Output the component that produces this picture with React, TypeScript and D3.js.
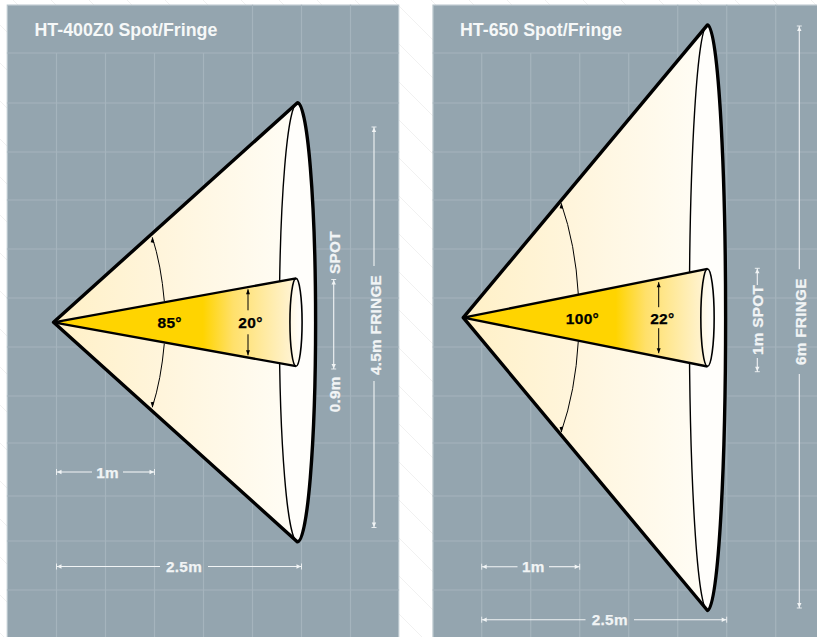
import React from "react";
import * as d3 from "d3";

// ---- data (metres / degrees) ----
const panelTitles = ["HT-400Z0 Spot/Fringe", "HT-650 Spot/Fringe"];
const fringeMetres = [4.5, 6];
const spotMetres = [0.9, 1];
const fringeAngles = ["85°", "100°"];
const spotAngles = ["20°", "22°"];
const apexDistance = [-0.03, -0.188];
const fringeRimDistance = [2.459, 2.304];
const spotRimDistance = [2.444, 2.304];
const fringeRimDepth = [0.185, 0.185];
const spotRimDepth = [0.062, 0.068];
const shortDistance = [1, 1];
const longDistance = [2.5, 2.5];
const fringeLabels = ["4.5m FRINGE", "6m FRINGE"];
const gridRows = [53, 103, 152, 200, 249, 298, 347, 396, 443, 496, 541, 590];
const gridColumns = [0, 0.5, 1, 1.5, 2, 2.5, 3];

// ---- layout ----
const WIDTH = 817;
const HEIGHT = 637;
const PX_PER_M_X = 98;
const PX_PER_M_Y = 97.6;
const PANEL_TOP = 4.5;

type Layout = {
  left: number; right: number; x0: number; cy: number; titleX: number;
  shortY: number; shortGap: [number, number]; longY: number; longGap: [number, number];
  fringeX: number; fringeEnds: [number, number]; fringeGap: [number, number];
  spotX: number; spotEnds: [number, number]; spotGap: [number, number];
  spotTexts: { t: string; y: number }[];
  fringeTextY: number;
  arcStart: number; arcStartOff: number; arcCtrlX: number; arcEnd: number; arcEndOff: number;
  spotArrowX: number; spotArrowFar: number; spotArrowNear: number;
  fringeLabelX: number; spotLabelX: number; labelY: number;
  solidUntil: number;
};

const layouts: Layout[] = [
  {
    left: 6.7, right: 399.3, x0: 56.5, cy: 322.3, titleX: 34.5,
    shortY: 472, shortGap: [92, 123], longY: 566.5, longGap: [160, 208],
    fringeX: 374, fringeEnds: [127, 527.5], fringeGap: [266, 381],
    spotX: 333.7, spotEnds: [279.5, 369], spotGap: [279.5, 369],
    spotTexts: [{ t: "SPOT", y: 252.5 }, { t: "0.9m", y: 394.3 }],
    fringeTextY: 325,
    arcStart: 164.3, arcStartOff: 21.3, arcCtrlX: 161.2, arcEnd: 152.3, arcEndOff: 85,
    spotArrowX: 248, spotArrowFar: 33, spotArrowNear: 12,
    fringeLabelX: 169.7, spotLabelX: 250.5, labelY: 322,
    solidUntil: 203,
  },
  {
    left: 432.4, right: 820, x0: 481.7, cy: 317.7, titleX: 460,
    shortY: 566.7, shortGap: [517.5, 549], longY: 619.7, longGap: [585.5, 634],
    fringeX: 799.3, fringeEnds: [26, 608], fringeGap: [269.3, 374],
    spotX: 757.3, spotEnds: [268.3, 371.7], spotGap: [285, 358],
    spotTexts: [{ t: "1m SPOT", y: 320 }],
    fringeTextY: 321.7,
    arcStart: 578.3, arcStartOff: 23.5, arcCtrlX: 575.5, arcEnd: 561.2, arcEndOff: 114.5,
    spotArrowX: 658.7, spotArrowFar: 35.5, spotArrowNear: 10.5,
    fringeLabelX: 582.5, spotLabelX: 662.3, labelY: 318.2,
    solidUntil: 615.7,
  },
];

const PANEL = "#94a5af";
const EDGE = "#b7c4cb";
const GRID = "#a5b4bd";
const LABEL = "#f1f4f5";
const FONT = "'Liberation Sans', Arial, sans-serif";

function HArrow({ x1, x2, y, gap }: { x1: number; x2: number; y: number; gap: [number, number] }) {
  return (
    <g stroke={LABEL} fill={LABEL}>
      <line x1={x1} x2={gap[0]} y1={y} y2={y} strokeWidth={1.1} />
      <line x1={gap[1]} x2={x2} y1={y} y2={y} strokeWidth={1.1} />
      <line x1={x1} x2={x1} y1={y - 3} y2={y + 3} strokeWidth={0.9} />
      <line x1={x2} x2={x2} y1={y - 3} y2={y + 3} strokeWidth={0.9} />
      <path stroke="none" d={`M${x1 + 0.5},${y}L${x1 + 5},${y - 2.2}L${x1 + 5},${y + 2.2}Z`} />
      <path stroke="none" d={`M${x2 - 0.5},${y}L${x2 - 5},${y - 2.2}L${x2 - 5},${y + 2.2}Z`} />
    </g>
  );
}

function VArrow({ x, y1, y2, gap }: { x: number; y1: number; y2: number; gap: [number, number] }) {
  const hasGap = gap[0] > y1 || gap[1] < y2;
  return (
    <g stroke={LABEL} fill={LABEL}>
      {hasGap ? (
        <>
          <line x1={x} x2={x} y1={y1} y2={gap[0]} strokeWidth={1.1} />
          <line x1={x} x2={x} y1={gap[1]} y2={y2} strokeWidth={1.1} />
        </>
      ) : (
        <line x1={x} x2={x} y1={y1} y2={y2} strokeWidth={1.1} />
      )}
      <line x1={x - 2.5} x2={x + 2.5} y1={y1} y2={y1} strokeWidth={0.9} />
      <line x1={x - 2.5} x2={x + 2.5} y1={y2} y2={y2} strokeWidth={0.9} />
      <path stroke="none" d={`M${x},${y1 + 0.5}L${x - 2.2},${y1 + 5}L${x + 2.2},${y1 + 5}Z`} />
      <path stroke="none" d={`M${x},${y2 - 0.5}L${x - 2.2},${y2 - 5}L${x + 2.2},${y2 - 5}Z`} />
    </g>
  );
}

function DimText({ x, y, t, rotate }: { x: number; y: number; t: string; rotate?: boolean }) {
  return (
    <text
      transform={`translate(${x},${y})${rotate ? " rotate(-90)" : ""}`}
      textAnchor="middle"
      dy="0.36em"
      fontFamily={FONT}
      fontWeight={700}
      fontSize={15.3}
      letterSpacing={0.3}
      fill={LABEL}
      stroke={LABEL}
      strokeWidth={0.25}
    >
      {t}
    </text>
  );
}

function Panel({ i }: { i: number }) {
  const l = layouts[i];
  const x = d3.scaleLinear().domain([0, 1]).range([l.x0, l.x0 + PX_PER_M_X]);
  const y = d3.scaleLinear().domain([0, 1]).range([l.cy, l.cy - PX_PER_M_Y]);

  const ax = x(apexDistance[i]);
  const fx = x(fringeRimDistance[i]);
  const sx = x(spotRimDistance[i]);
  const fTop = y(fringeMetres[i] / 2);
  const fBot = y(-fringeMetres[i] / 2);
  const sTop = y(spotMetres[i] / 2);
  const sBot = y(-spotMetres[i] / 2);
  const frx = fringeRimDepth[i] * PX_PER_M_X;
  const srx = spotRimDepth[i] * PX_PER_M_X;
  const fry = (fBot - fTop) / 2;
  const sry = (sBot - sTop) / 2;

  const arc = (sign: number) => {
    const ys = l.cy + sign * l.arcStartOff;
    const ye = l.cy + sign * l.arcEndOff;
    return `M${l.arcStart},${ys}Q${l.arcCtrlX},${(ys + ye) / 2 + sign * 4} ${l.arcEnd},${ye}`;
  };
  const head = (sign: number) => {
    const ye = l.cy + sign * l.arcEndOff;
    return `M${l.arcEnd},${ye}L${l.arcEnd - 1.6},${ye - sign * 5}L${l.arcEnd + 2},${ye - sign * 5.6}Z`;
  };
  const id = `p${i}`;
  const clipId = `${id}-clip`;
  const sa = l.spotArrowX;

  return (
    <g>
      <defs>
        <clipPath id={clipId}>
          <rect x={l.left} y={PANEL_TOP} width={l.right - l.left} height={HEIGHT} />
        </clipPath>
        <linearGradient id={`${id}-fringe`} gradientUnits="userSpaceOnUse" x1={ax} x2={fx} y1={0} y2={0}>
          <stop offset="0" stopColor="#fff0c6" />
          <stop offset="0.45" stopColor="#fff5dc" />
          <stop offset="1" stopColor="#fffdf6" />
        </linearGradient>
        <linearGradient id={`${id}-spot`} gradientUnits="userSpaceOnUse" x1={ax} x2={sx} y1={0} y2={0}>
          <stop offset="0" stopColor="#ffd400" />
          <stop offset={(l.solidUntil - ax) / (sx - ax)} stopColor="#ffd400" />
          <stop offset={(l.solidUntil + 30 - ax) / (sx - ax)} stopColor="#ffe06a" />
          <stop offset="1" stopColor="#fff4d8" />
        </linearGradient>
        <linearGradient id={`${id}-rim`} gradientUnits="userSpaceOnUse" x1={sx - srx} x2={sx + srx} y1={0} y2={0}>
          <stop offset="0" stopColor="#fff8e4" />
          <stop offset="1" stopColor="#fffefb" />
        </linearGradient>
      </defs>

      {/* panel */}
      <rect x={l.left} y={PANEL_TOP} width={l.right - l.left} height={HEIGHT} fill={EDGE} />
      <rect x={l.left + 1.3} y={PANEL_TOP + 1.3} width={l.right - l.left - 2.6} height={HEIGHT} fill={PANEL} />
      <g clipPath={`url(#${clipId})`} stroke={GRID} strokeWidth={1.2} fill="none">
        {gridRows.map((r) => (
          <line key={r} x1={l.left} x2={l.right} y1={r} y2={r} />
        ))}
        {gridColumns.map((c, k) => (
          <line key={c} x1={x(c)} x2={x(c)} y1={k >= 4 ? PANEL_TOP : gridRows[0]} y2={HEIGHT} />
        ))}
      </g>

      <text x={l.titleX} y={36} fontFamily={FONT} fontWeight={700} fontSize={17.8} fill="#f6f8f8">
        {panelTitles[i]}
      </text>

      {/* fringe cone */}
      <path
        d={`M${ax},${l.cy}L${fx},${fTop}A${frx},${fry} 0 0 1 ${fx},${fBot}Z`}
        fill={`url(#${id}-fringe)`}
      />
      <ellipse cx={fx} cy={l.cy} rx={frx} ry={fry} fill="#fffefb" />
      <path d={`M${fx},${fTop}A${frx},${fry} 0 0 0 ${fx},${fBot}`} fill="none" stroke="#000" strokeWidth={1.4} />
      <path
        d={`M${ax},${l.cy}L${fx},${fTop}A${frx},${fry} 0 0 1 ${fx},${fBot}Z`}
        fill="none"
        stroke="#000"
        strokeWidth={3.4}
        strokeLinejoin="round"
      />

      {/* fringe angle */}
      {[-1, 1].map((s) => (
        <g key={s}>
          <path d={arc(s)} fill="none" stroke="#000" strokeWidth={1} />
          <path d={head(s)} fill="#000" />
        </g>
      ))}

      {/* spot cone */}
      <path
        d={`M${ax},${l.cy}L${sx},${sTop}A${srx},${sry} 0 0 1 ${sx},${sBot}Z`}
        fill={`url(#${id}-spot)`}
      />
      <ellipse cx={sx} cy={l.cy} rx={srx} ry={sry} fill={`url(#${id}-rim)`} />
      <ellipse cx={sx} cy={l.cy} rx={srx} ry={sry} fill="none" stroke="#000" strokeWidth={1.6} />
      <path
        d={`M${sx},${sTop}L${ax},${l.cy}L${sx},${sBot}`}
        fill="none"
        stroke="#000"
        strokeWidth={2.3}
        strokeLinejoin="round"
      />

      {/* spot angle */}
      {[-1, 1].map((s) => {
        const near = l.cy + s * l.spotArrowNear;
        const far = l.cy + s * l.spotArrowFar;
        return (
          <g key={s}>
            <line x1={sa} x2={sa} y1={near} y2={far} stroke="#000" strokeWidth={1} />
            <path d={`M${sa},${far}L${sa - 2},${far - s * 5}L${sa + 2},${far - s * 5}Z`} fill="#000" />
          </g>
        );
      })}

      <text x={l.fringeLabelX} y={l.labelY} dy="0.36em" textAnchor="middle" fontFamily={FONT} fontWeight={700} fontSize={15.5} letterSpacing={0.3} fill="#000" stroke="#000" strokeWidth={0.25}>
        {fringeAngles[i]}
      </text>
      <text x={l.spotLabelX} y={l.labelY} dy="0.36em" textAnchor="middle" fontFamily={FONT} fontWeight={700} fontSize={15.5} letterSpacing={0.3} fill="#000" stroke="#000" strokeWidth={0.25}>
        {spotAngles[i]}
      </text>

      {/* dimensions */}
      <HArrow x1={x(0)} x2={x(shortDistance[i])} y={l.shortY} gap={l.shortGap} />
      <DimText x={(l.shortGap[0] + l.shortGap[1]) / 2} y={l.shortY} t={`${shortDistance[i]}m`} />
      <HArrow x1={x(0)} x2={x(longDistance[i])} y={l.longY} gap={l.longGap} />
      <DimText x={(l.longGap[0] + l.longGap[1]) / 2} y={l.longY} t={`${longDistance[i]}m`} />

      <VArrow x={l.fringeX} y1={l.fringeEnds[0]} y2={l.fringeEnds[1]} gap={l.fringeGap} />
      <DimText x={l.fringeX + 1} y={l.fringeTextY} t={fringeLabels[i]} rotate />
      <VArrow x={l.spotX} y1={l.spotEnds[0]} y2={l.spotEnds[1]} gap={l.spotGap} />
      {l.spotTexts.map((s) => (
        <DimText key={s.t} x={l.spotX + 0.5} y={s.y} t={s.t} rotate />
      ))}
    </g>
  );
}

export default function App() {
  // faint diagonal hatch on the white page behind the panels
  const hatch = d3.range(-30, 30).map((k) => 25 + k * 38);
  return (
    <svg
      width={WIDTH}
      height={HEIGHT}
      viewBox={`0 0 ${WIDTH} ${HEIGHT}`}
      style={{ position: "absolute", left: 0, top: 0, display: "block" }}
    >
      <rect width={WIDTH} height={HEIGHT} fill="#fff" />
      {hatch.map((c) => (
        <line key={c} x1={0} y1={c} x2={WIDTH} y2={c + WIDTH} stroke="#f1f1f1" strokeWidth={1} />
      ))}
      {panelTitles.map((_, i) => (
        <Panel key={i} i={i} />
      ))}
    </svg>
  );
}
